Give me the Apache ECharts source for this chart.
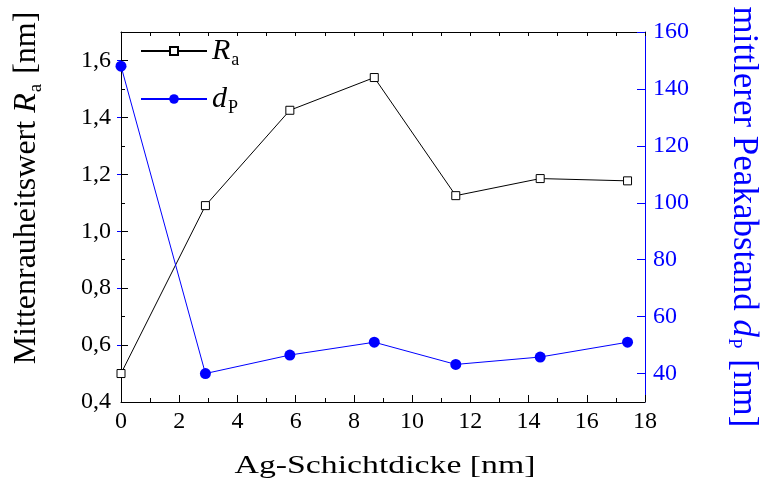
<!DOCTYPE html>
<html>
<head>
<meta charset="utf-8">
<script src="https://cdn.jsdelivr.net/npm/echarts@6/dist/echarts.min.js"></script>
<style>
  html, body { margin: 0; padding: 0; background: #fff; }
  #chart { width: 761px; height: 489px; }
</style>
</head>
<body>
<div id="chart"></div>
<script>
// Ag layer thickness [nm]
const thickness = [0, 2.9, 5.8, 8.7, 11.5, 14.4, 17.4];
// mean roughness Ra [nm]
const roughness = [0.50, 1.09, 1.425, 1.54, 1.125, 1.185, 1.177];
// mean peak spacing dP [nm]
const peakSpacing = [148, 40, 46.5, 51, 43.2, 45.8, 51];

// tick positions
const xMajorTicks = [0, 2, 4, 6, 8, 10, 12, 14, 16, 18];
const xMinorTicks = [1, 3, 5, 7, 9, 11, 13, 15, 17];
const xTopTicks = [0, 1, 2, 3, 4, 5, 6, 7, 8, 9, 10, 11, 12, 13, 14, 15, 16, 17, 18];
const raMajorTicks = [0.4, 0.6, 0.8, 1.0, 1.2, 1.4, 1.6];
const raMinorTicks = [0.5, 0.7, 0.9, 1.1, 1.3, 1.5];
const dpMajorTicks = [40, 60, 80, 100, 120, 140, 160];
const dpMinorTicks = [50, 70, 90, 110, 130, 150];

const SERIF = '"Liberation Serif", "Times New Roman", serif';
const BLUE = '#0000ff';
const BLACK = '#000000';

const chart = echarts.init(document.getElementById('chart'), null, { renderer: 'canvas' });

function valueAxisBase(extra) {
  return Object.assign({
    type: 'value',
    splitLine: { show: false },
    axisLabel: { show: false },
    axisTick: { show: false },
    axisLine: { show: false }
  }, extra);
}

const xRange = { min: 0, max: 18 };
const raRange = { min: 0.4, max: 1.7 };
const dpRange = { min: 30, max: 160 };

const legendRich = {
  i: { fontFamily: SERIF, fontSize: 30, fontStyle: 'italic', color: BLACK },
  s: { fontFamily: SERIF, fontSize: 18, color: BLACK, padding: [18, 0, 0, 1] }
};

const option = {
  animation: false,
  backgroundColor: '#ffffff',
  grid: { left: 121, right: 116, top: 32, bottom: 87, containLabel: false },
  xAxis: [
    valueAxisBase(Object.assign({
      position: 'bottom',
      axisLine: { show: true, onZero: false, lineStyle: { color: BLACK, width: 1 } },
      axisTick: { show: true, inside: true, length: 7, customValues: xMajorTicks, lineStyle: { color: BLACK } },
      axisLabel: {
        show: true, customValues: xMajorTicks, margin: 8,
        fontFamily: SERIF, fontSize: 24, color: BLACK,
        formatter: v => String(v)
      }
    }, xRange)),
    valueAxisBase(Object.assign({
      position: 'bottom',
      axisTick: { show: true, inside: true, length: 4, customValues: xMinorTicks, lineStyle: { color: BLACK } }
    }, xRange)),
    valueAxisBase(Object.assign({
      position: 'top',
      axisLine: { show: true, onZero: false, lineStyle: { color: BLACK, width: 1 } },
      axisTick: { show: true, inside: true, length: 4, customValues: xTopTicks, lineStyle: { color: BLACK } }
    }, xRange))
  ],
  yAxis: [
    valueAxisBase(Object.assign({
      position: 'left',
      axisLine: { show: true, onZero: false, lineStyle: { color: BLACK, width: 1 } },
      axisTick: { show: true, inside: true, length: 7, customValues: raMajorTicks, lineStyle: { color: BLACK } },
      axisLabel: {
        show: true, customValues: raMajorTicks, margin: 10,
        fontFamily: SERIF, fontSize: 24, color: BLACK,
        formatter: v => v.toFixed(1).replace('.', ',')
      }
    }, raRange)),
    valueAxisBase(Object.assign({
      position: 'left',
      axisTick: { show: true, inside: true, length: 4, customValues: raMinorTicks, lineStyle: { color: BLACK } }
    }, raRange)),
    valueAxisBase(Object.assign({
      position: 'right',
      axisLine: { show: true, onZero: false, lineStyle: { color: BLUE, width: 1 } },
      axisTick: { show: true, inside: true, length: 8, customValues: dpMajorTicks, lineStyle: { color: BLUE } },
      axisLabel: {
        show: true, customValues: dpMajorTicks, margin: 8,
        fontFamily: SERIF, fontSize: 24, color: BLUE,
        formatter: v => String(v)
      }
    }, dpRange)),
    valueAxisBase(Object.assign({
      position: 'right',
      axisTick: { show: true, inside: true, length: 4, customValues: dpMinorTicks, lineStyle: { color: BLUE } }
    }, dpRange))
  ],
  legend: [
    {
      data: ['Ra'], left: 140, top: 36, padding: 0, itemWidth: 66, itemHeight: 10,
      formatter: () => '{i|R}{s|a}',
      textStyle: { rich: legendRich }
    },
    {
      data: ['dP'], left: 140, top: 84, padding: 0, itemWidth: 66, itemHeight: 12,
      formatter: () => '{i|d}{s|P}',
      textStyle: { rich: legendRich }
    }
  ],
  series: [
    {
      name: 'Ra',
      type: 'line',
      xAxisIndex: 0,
      yAxisIndex: 0,
      data: thickness.map((x, i) => [x, roughness[i]]),
      symbol: 'rect',
      symbolSize: 8,
      lineStyle: { color: BLACK, width: 1 },
      itemStyle: { color: '#ffffff', borderColor: BLACK, borderWidth: 1 },
      z: 3
    },
    {
      name: 'dP',
      type: 'line',
      xAxisIndex: 0,
      yAxisIndex: 2,
      data: thickness.map((x, i) => [x, peakSpacing[i]]),
      symbol: 'circle',
      symbolSize: 11,
      lineStyle: { color: BLUE, width: 1 },
      itemStyle: { color: BLUE, borderWidth: 0 },
      z: 4
    }
  ],
  graphic: [
    {
      type: 'text',
      x: 385, y: 466,
      scaleX: 1.35,
      style: {
        text: 'Ag-Schichtdicke [nm]',
        fontFamily: SERIF, fontSize: 25, fill: BLACK,
        align: 'center', verticalAlign: 'middle'
      }
    },
    {
      type: 'text',
      x: 27, y: 188,
      rotation: Math.PI / 2,
      style: {
        text: '{n|Mittenrauheitswert }{i|R}{s|a}{n| [nm]}',
        align: 'center', verticalAlign: 'middle',
        rich: {
          n: { fontFamily: SERIF, fontSize: 32, fill: BLACK },
          i: { fontFamily: SERIF, fontSize: 32, fontStyle: 'italic', fill: BLACK },
          s: { fontFamily: SERIF, fontSize: 19, fill: BLACK, padding: [18, 2, 0, 1] }
        }
      }
    },
    {
      type: 'text',
      x: 743, y: 217,
      rotation: -Math.PI / 2,
      style: {
        text: '{n|mittlerer Peakabstand }{i|d}{s|P}{n| [nm]}',
        align: 'center', verticalAlign: 'middle',
        rich: {
          n: { fontFamily: SERIF, fontSize: 35, fill: BLUE },
          i: { fontFamily: SERIF, fontSize: 35, fontStyle: 'italic', fill: BLUE },
          s: { fontFamily: SERIF, fontSize: 19, fill: BLUE, padding: [18, 2, 0, 1] }
        }
      }
    }
  ]
};

chart.setOption(option);
</script>
</body>
</html>
